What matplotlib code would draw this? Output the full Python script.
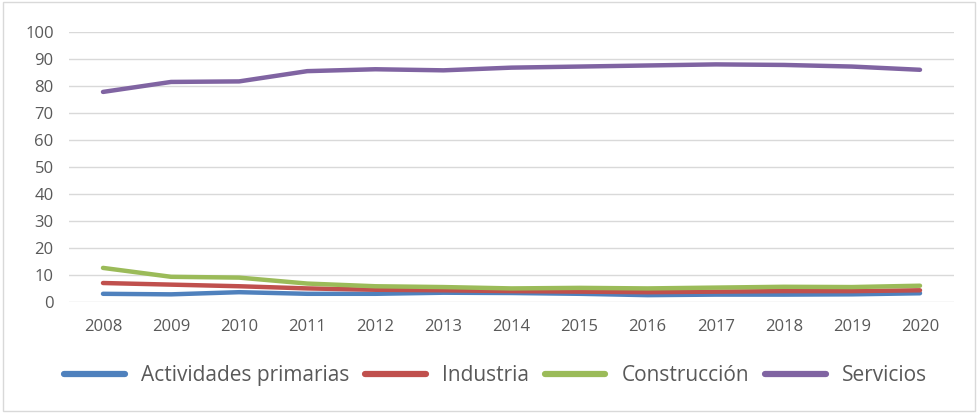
import matplotlib.pyplot as plt
from matplotlib.patches import Rectangle

# Datos (% por sector)
anios = ['2008', '2009', '2010', '2011', '2012', '2013', '2014',
         '2015', '2016', '2017', '2018', '2019', '2020']
primarias = [3.0, 2.8, 3.6, 3.0, 3.0, 3.4, 3.3, 3.0, 2.5, 2.7, 2.7, 2.8, 3.2]
industria = [7.0, 6.4, 5.8, 5.0, 4.5, 4.3, 4.0, 3.8, 3.6, 3.8, 4.0, 4.0, 4.3]
construccion = [12.6, 9.3, 9.0, 6.8, 5.8, 5.5, 5.0, 5.2, 5.0, 5.3, 5.6, 5.5, 6.0]
servicios = [77.8, 81.5, 81.7, 85.5, 86.2, 85.8, 86.8, 87.2, 87.6, 88.0, 87.8, 87.2, 86.0]

series = [
    ('Actividades primarias', primarias, '#4f81bd'),
    ('Industria', industria, '#c0504d'),
    ('Construcción', construccion, '#9bbb59'),
    ('Servicios', servicios, '#8064a2'),
]

plt.rcParams['font.family'] = ['Open Sans', 'DejaVu Sans']

fig = plt.figure(figsize=(9.78, 4.13), dpi=100)
ax = fig.add_axes([0.0705, 0.269, 0.905, 0.6535])

x = list(range(len(anios)))
for nombre, valores, color in series:
    ax.plot(x, valores, color=color, linewidth=3.2, solid_capstyle='round',
            solid_joinstyle='round', label=nombre)

ax.set_xlim(-0.5, len(anios) - 0.5)
ax.set_ylim(0, 100)
ax.set_yticks(range(0, 101, 10))
ax.set_xticks(x)
ax.set_xticklabels(anios)
ax.grid(axis='y', color='#d9d9d9', linewidth=1)
ax.set_axisbelow(True)
for s in ax.spines.values():
    s.set_visible(False)
ax.tick_params(length=0, labelsize=12, colors='#595959')
ax.tick_params(axis='x', pad=12)
ax.tick_params(axis='y', pad=11)

leg = fig.legend(loc='center', bbox_to_anchor=(0.507, 0.09), ncol=4, frameon=False,
                 fontsize=15, handlelength=2.9, handletextpad=0.8, columnspacing=0.75)
for t in leg.get_texts():
    t.set_color('#595959')
for h in leg.get_lines():
    h.set_linewidth(4.5)
    h.set_solid_capstyle('round')

fig.patches.append(Rectangle((0.003, 0.005), 0.994, 0.99, transform=fig.transFigure,
                             fill=False, edgecolor='#d9d9d9', linewidth=1))

fig.savefig('out.png', dpi=100)
